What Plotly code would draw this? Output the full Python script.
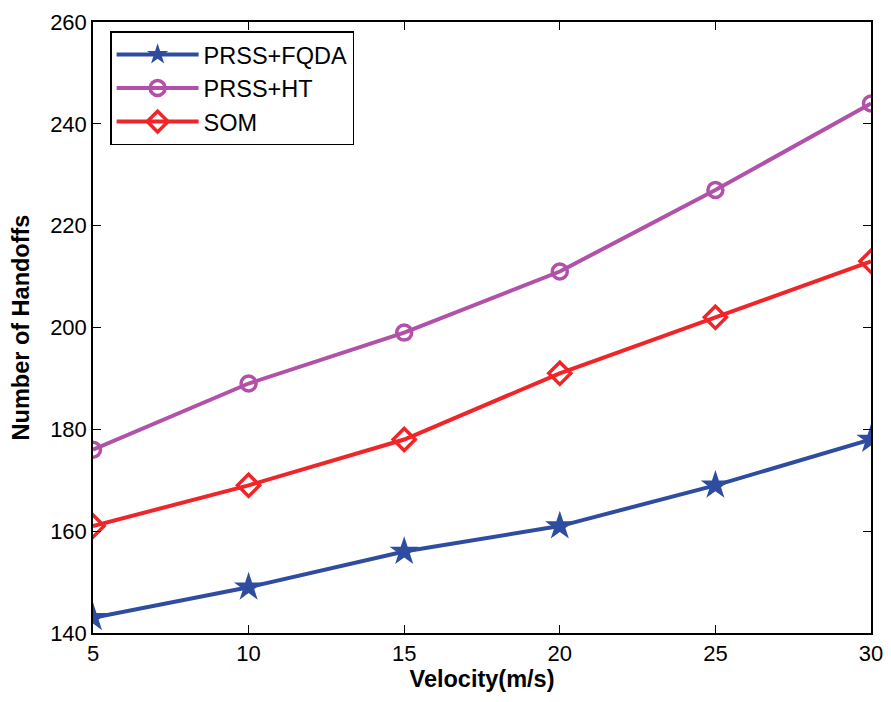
import plotly.graph_objects as go

velocity = [5, 10, 15, 20, 25, 30]
prss_fqda = [143, 149, 156, 161, 169, 178]
prss_ht = [176, 189, 199, 211, 227, 244]
som = [161, 169, 178, 191, 202, 213]
x_ticks = [5, 10, 15, 20, 25, 30]
y_ticks = [140, 160, 180, 200, 220, 240, 260]

fig = go.Figure()
fig.add_trace(go.Scatter(x=velocity, y=prss_fqda, name="PRSS+FQDA", mode="lines+markers",
                         line=dict(color="#2E4DA0", width=4),
                         marker=dict(symbol="star", size=22, color="#2E4DA0")))
fig.add_trace(go.Scatter(x=velocity, y=prss_ht, name="PRSS+HT", mode="lines+markers",
                         line=dict(color="#B151A9", width=4),
                         marker=dict(symbol="circle-open", size=15, color="#B151A9", line=dict(width=3.5))))
fig.add_trace(go.Scatter(x=velocity, y=som, name="SOM", mode="lines+markers",
                         line=dict(color="#EE2529", width=4),
                         marker=dict(symbol="diamond-open", size=17, color="#EE2529", line=dict(width=3.5))))

axis_common = dict(showline=True, linecolor="black", linewidth=1.5, mirror="ticks",
                   ticks="inside", ticklen=8, tickcolor="black", showgrid=False, zeroline=False,
                   automargin=False, ticklabeloverflow="allow",
                   tickfont=dict(family="Liberation Sans, Arial, sans-serif", size=22, color="black"))

fig.update_layout(
    width=883, height=686,
    margin=dict(l=85, r=20, t=14, b=61),
    paper_bgcolor="white", plot_bgcolor="white",
    font=dict(family="Liberation Sans, Arial, sans-serif", color="black"),
    xaxis=dict(range=[5, 30], tickvals=x_ticks,
               title=dict(text="<b>Velocity(m/s)</b>", font=dict(size=23.5), standoff=2),
               **axis_common),
    yaxis=dict(range=[140, 260], tickvals=y_ticks,
               title=dict(text="<b>Number of Handoffs</b>", font=dict(size=23.5), standoff=16),
               **axis_common),
    legend=dict(x=0.022, y=0.985, xanchor="left", yanchor="top",
                bgcolor="white", bordercolor="black", borderwidth=1.5,
                font=dict(size=23.5), itemwidth=82, tracegroupgap=0),
    showlegend=True,
)

fig.write_html("out.html")
